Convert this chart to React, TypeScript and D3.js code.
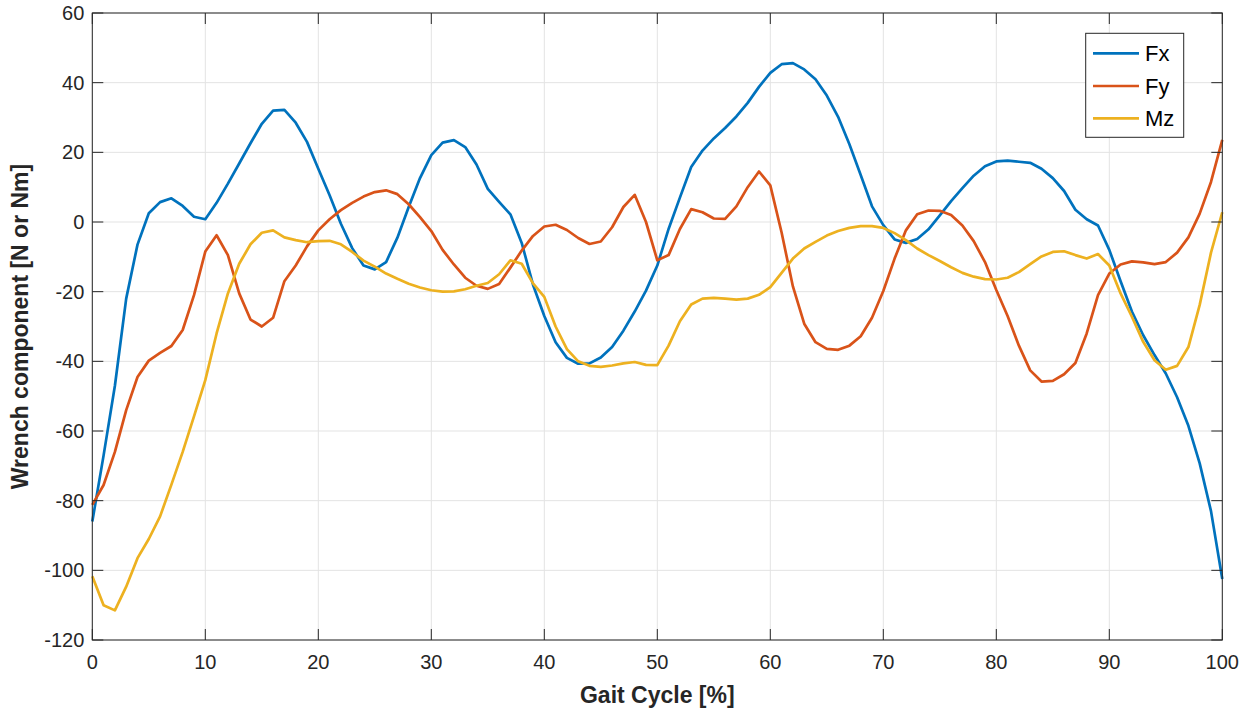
import React from "react";
import * as d3 from "d3";

// Gait cycle samples, percent
const gaitPct = d3.range(0, 101);

// Force along x [N]
const fx = [
  -86, -67, -47, -22, -6.5, 2.5, 5.7, 6.8, 4.6, 1.5,
  0.8, 5.5, 11, 16.8, 22.6, 28.2, 32, 32.2, 28.5, 23,
  15.3, 7.7, -0.5, -7.5, -12.5, -13.6, -11.5, -4.5, 4.3, 12.6,
  19.2, 22.8, 23.5, 21.5, 16.5, 9.5, 5.8, 2.2, -6, -18,
  -27, -34.5, -39, -40.7, -40.6, -38.9, -35.9, -31.2, -25.7, -19.7,
  -12.5, -2, 7, 15.8, 20.5, 24, 27, 30.3, 34.2, 38.8,
  42.8, 45.3, 45.6, 43.8, 41, 36.3, 30.2, 22.3, 13.5, 4.5,
  -0.9, -5, -6, -4.9, -2.1, 1.9, 6, 9.7, 13.3, 16,
  17.4, 17.6, 17.3, 17, 15.3, 12.6, 8.9, 3.5, 0.8, -1,
  -8, -17, -25.7, -32.5, -38.2, -43.5, -50.3, -58.5, -69.3, -83,
  -102.5,
];

// Force along y [N]
const fy = [
  -81.2, -75.5, -66, -54, -44.5, -39.8, -37.6, -35.6, -31, -21,
  -8.5, -3.8, -9.5, -20.5, -28, -30, -27.5, -17, -12.5, -7,
  -2.4, 0.8, 3.4, 5.5, 7.3, 8.6, 9.1, 8, 5.1, 1.4,
  -2.6, -8, -12.2, -16, -18.3, -19.2, -17.8, -13.1, -8.2, -4,
  -1.3, -0.8, -2.3, -4.6, -6.3, -5.6, -1.5, 4.3, 7.8, 0,
  -11, -9.5, -2, 3.7, 2.8, 1, 0.9, 4.5, 10, 14.5,
  10.5, -3, -18.5, -29.2, -34.5, -36.4, -36.7, -35.5, -32.8, -27.5,
  -19.8, -10.5, -2.4, 2.2, 3.3, 3.2, 2, -1, -5.5, -11.5,
  -19.5, -27, -35.5, -42.6, -45.8, -45.6, -43.7, -40.5, -32, -21,
  -14.8, -12.2, -11.3, -11.6, -12.1, -11.5, -8.8, -4.4, 2.4, 11.5,
  23.6,
];

// Moment about z [Nm]
const mz = [
  -101.7, -110, -111.5, -104.7, -96.5, -91, -84.5, -75.4, -66, -55.8,
  -45.4, -32, -20.5, -12, -6.4, -3.1, -2.4, -4.4, -5.2, -5.8,
  -5.5, -5.4, -6.4, -8.6, -11.1, -12.8, -14.8, -16.3, -17.7, -18.8,
  -19.6, -20, -19.9, -19.3, -18.3, -17.5, -15, -11, -12, -17.6,
  -21.5, -30, -36.5, -40, -41.3, -41.6, -41.2, -40.6, -40.2, -41,
  -41.1, -35.5, -28.5, -23.7, -22, -21.8, -22, -22.3, -22, -20.9,
  -18.7, -14.6, -10.5, -7.6, -5.7, -3.9, -2.6, -1.7, -1.2, -1.2,
  -1.7, -3.2, -5.2, -7.6, -9.5, -11.2, -13, -14.6, -15.7, -16.4,
  -16.5, -16, -14.4, -12.1, -9.9, -8.6, -8.4, -9.5, -10.5, -9.2,
  -12.5, -20.5, -27.2, -34.4, -39.7, -42.4, -41.3, -35.9, -23.8, -8.8,
  2.8,
];

const seriesNames = ["Fx", "Fy", "Mz"];
const seriesColors = ["#0072BD", "#D95319", "#EDB120"];
const xTicks = [0, 10, 20, 30, 40, 50, 60, 70, 80, 90, 100];
const yTicks = [60, 40, 20, 0, -20, -40, -60, -80, -100, -120];

const W = 1251;
const H = 710;
const plot = { left: 92.3, right: 1222.3, top: 13, bottom: 640 };
const axisColor = "#262626";
const gridColor = "#e3e3e3";
const tickLen = 11;
const font = "'Liberation Sans', Arial, Helvetica, sans-serif";

export default function App() {
  const x = d3.scaleLinear().domain([0, 100]).range([plot.left, plot.right]);
  const y = d3.scaleLinear().domain([-120, 60]).range([plot.bottom, plot.top]);

  const line = d3
    .line<number>()
    .x((_, i) => x(gaitPct[i]))
    .y((d) => y(d));

  const data = [fx, fy, mz];

  const legend = { x: 1085.7, y: 33.3, w: 98, h: 104 };
  const rowY = [53.3, 86, 118.3];

  return (
    <svg
      width={W}
      height={H}
      style={{ position: "absolute", left: 0, top: 0, background: "#fff" }}
      fontFamily={font}
    >
      <rect x={0} y={0} width={W} height={H} fill="#fff" />
      {/* grid */}
      {xTicks.map((t) => (
        <line key={"gx" + t} x1={x(t)} x2={x(t)} y1={plot.top} y2={plot.bottom} stroke={gridColor} strokeWidth={1} />
      ))}
      {yTicks.map((t) => (
        <line key={"gy" + t} x1={plot.left} x2={plot.right} y1={y(t)} y2={y(t)} stroke={gridColor} strokeWidth={1} />
      ))}

      {/* data lines */}
      {data.map((d, i) => (
        <path
          key={seriesNames[i]}
          d={line(d) || ""}
          fill="none"
          stroke={seriesColors[i]}
          strokeWidth={2.7}
          strokeLinejoin="round"
        />
      ))}

      {/* box with inward ticks on all sides */}
      <rect
        x={plot.left}
        y={plot.top}
        width={plot.right - plot.left}
        height={plot.bottom - plot.top}
        fill="none"
        stroke={axisColor}
        strokeWidth={1}
      />
      {xTicks.map((t) => (
        <g key={"tx" + t}>
          <line x1={x(t)} x2={x(t)} y1={plot.bottom} y2={plot.bottom - tickLen} stroke={axisColor} />
          <line x1={x(t)} x2={x(t)} y1={plot.top} y2={plot.top + tickLen} stroke={axisColor} />
          <text x={x(t)} y={655} textAnchor="middle" dominantBaseline="hanging" fontSize={20} fill={axisColor}>
            {t}
          </text>
        </g>
      ))}
      {yTicks.map((t) => (
        <g key={"ty" + t}>
          <line x1={plot.left} x2={plot.left + tickLen} y1={y(t)} y2={y(t)} stroke={axisColor} />
          <line x1={plot.right} x2={plot.right - tickLen} y1={y(t)} y2={y(t)} stroke={axisColor} />
          <text x={plot.left - 8} y={y(t)} textAnchor="end" dominantBaseline="central" fontSize={20} fill={axisColor}>
            {t}
          </text>
        </g>
      ))}

      {/* axis titles */}
      <text
        x={(plot.left + plot.right) / 2}
        y={703}
        textAnchor="middle"
        fontSize={23}
        fontWeight="bold"
        fill={axisColor}
      >
        Gait Cycle [%]
      </text>
      <text
        transform={`translate(28, ${(plot.top + plot.bottom) / 2}) rotate(-90)`}
        textAnchor="middle"
        fontSize={23}
        fontWeight="bold"
        fill={axisColor}
      >
        Wrench component [N or Nm]
      </text>

      {/* legend */}
      <rect x={legend.x} y={legend.y} width={legend.w} height={legend.h} fill="#fff" stroke={axisColor} strokeWidth={1} />
      {seriesNames.map((n, i) => (
        <g key={"lg" + n}>
          <line x1={1093} x2={1139} y1={rowY[i]} y2={rowY[i]} stroke={seriesColors[i]} strokeWidth={2.7} />
          <text x={1145} y={rowY[i]} dominantBaseline="central" fontSize={22} fill="#000">
            {n}
          </text>
        </g>
      ))}
    </svg>
  );
}
